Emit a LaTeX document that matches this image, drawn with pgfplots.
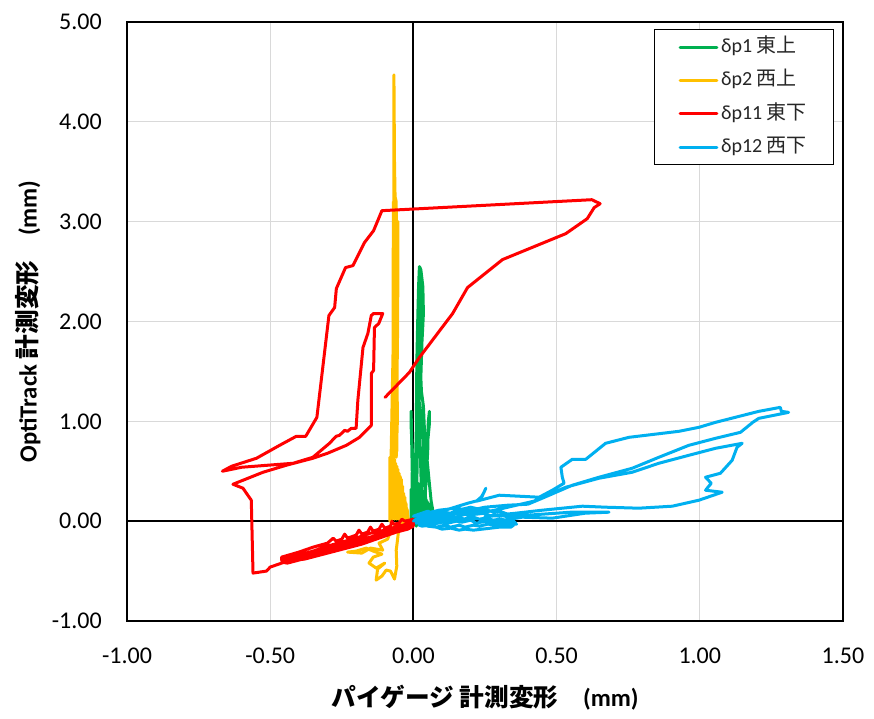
\documentclass[border=0pt]{standalone}
\usepackage{fontspec}
\setmainfont{Carlito}
\newfontfamily\cjk{Noto Sans CJK JP}
\usepackage{pgfplots}
\pgfplotsset{compat=1.18}
\definecolor{gridgray}{RGB}{217,217,217}
\definecolor{cgreen}{RGB}{0,176,80}
\definecolor{cyellow}{RGB}{255,192,0}
\definecolor{cred}{RGB}{255,0,0}
\definecolor{cblue}{RGB}{0,176,240}
\begin{document}
\begin{tikzpicture}
\fill[white] (-95.25pt,-72.75pt) rectangle (560.25pt,465.75pt);
\useasboundingbox (-95.25pt,-72.75pt) rectangle (560.25pt,465.75pt);
\begin{axis}[
  at={(0,0)}, anchor=south west,
  scale only axis, width=537pt, height=449.25pt,
  xmin=-1, xmax=1.5, ymin=-1, ymax=5,
  xtick={-1,-0.5,0,0.5,1,1.5},
  ytick={-1,0,1,2,3,4,5},
  /pgf/number format/assume math mode=true,
  /pgf/number format/fixed, /pgf/number format/fixed zerofill, /pgf/number format/precision=2,
  tick label style={font=\fontsize{18}{22}\selectfont},
  xticklabel style={anchor=north, inner sep=0pt, yshift=-20pt},
  yticklabel style={anchor=east, inner sep=0pt, xshift=-18.75pt},
  major tick length=0pt,
  grid=major,
  major grid style={draw=gridgray, line width=1pt},
  extra x ticks={0}, extra y ticks={0},
  extra x tick labels={}, extra y tick labels={},
  extra tick style={grid=major, major grid style={draw=black, line width=1.6pt}},
  axis line style={draw=black, line width=1.1pt},
  xlabel={\bfseries{\cjk パイゲージ 計測変形　}(mm)},
  ylabel={\bfseries OptiTrack {\cjk 計測変形　}(mm)},
  label style={font=\fontsize{18.5}{22}\selectfont},
  xlabel style={at={(axis description cs:0.5,-0.1285)}, anchor=center, inner sep=0pt},
  ylabel style={at={(axis description cs:-0.1383,0.5)}, anchor=center, inner sep=0pt},
  legend style={at={(1,1)}, anchor=north east, xshift=-6.75pt, yshift=-5.25pt,
    draw=black, line width=0.75pt, inner xsep=18pt, inner ysep=4.3pt,
    row sep=7pt, font=\fontsize{15}{18}\selectfont,
    nodes={text height=11pt, text depth=3pt, inner sep=2pt, anchor=west, text=black!85}},
  legend cell align=left,
  legend image code/.code={\draw[#1, line width=2.25pt] (0pt,0pt) -- (27.5pt,0pt);},
  every axis plot/.append style={line width=2.25pt, line join=round, line cap=round},
]
% delta p1 (green)
\addplot[cgreen, mark=none] coordinates {
(0.00,0.00) (0.005,0.30) (0.010,0.90) (0.012,1.60) (0.015,2.00) (0.018,2.35)
(0.021,2.55) (0.026,2.52) (0.033,2.35) (0.035,2.08) (0.030,1.80) (0.026,1.44)
(0.028,1.30) (0.035,1.15) (0.038,0.95) (0.045,0.70) (0.055,0.40) (0.062,0.20)
(0.067,0.12) (0.050,0.05) (0.040,0.30) (0.042,0.60) (0.050,0.80) (0.056,0.98)
(0.056,1.10) (0.052,1.00) (0.050,0.70) (0.046,0.50) (0.040,0.20) (0.030,0.10)
(0.025,0.60) (0.022,1.00) (0.018,1.20) (0.012,0.80) (0.010,0.40) (0.005,0.10)
(0.000,0.50) (-0.008,0.95) (-0.008,1.10) (-0.004,0.50) (-0.005,0.05) (0.010,-0.05)
(0.020,2.00) (0.024,2.40) (0.028,2.00) (0.024,1.50) (0.016,1.40) (0.014,1.80)
(0.020,1.20) (0.030,1.00) (0.036,0.80) (0.034,0.40)
(-0.008,0.00) (-0.008,0.32) (-0.004,0.00) (-0.004,0.34) (0.000,0.00) (0.000,0.35)
(0.004,0.00) (0.004,0.36) (0.008,0.00) (0.008,0.38) (0.012,0.00) (0.012,0.40)
(0.016,0.00) (0.016,0.38) (0.020,0.00) (0.020,0.36) (0.024,0.00) (0.024,0.34)
(0.028,0.00) (0.028,0.33) (0.032,0.00) (0.032,0.30) (0.036,0.00) (0.036,0.28)
(0.040,0.00) (0.040,0.25) (0.044,0.00) (0.044,0.22) (0.048,0.00) (0.048,0.20)
(0.052,0.00) (0.052,0.18) (0.056,0.00) (0.056,0.16) (0.060,0.02) (0.060,0.12)
(0.064,0.03) (0.064,0.10) (0.030,0.00) (0.000,0.00)
};
\addlegendentry{δp1 {\cjk 東上}}
% delta p2 (yellow)
\addplot[cyellow, mark=none] coordinates {
(-0.020,0.00) (-0.050,0.02) (-0.070,0.10) (-0.070,1.50) (-0.068,3.50) (-0.068,4.47)
(-0.066,3.60) (-0.064,3.25) (-0.060,3.20) (-0.058,2.00) (-0.056,1.00) (-0.060,0.64)
(-0.064,2.50) (-0.067,3.30) (-0.070,2.00) (-0.072,0.65) (-0.070,3.20) (-0.066,0.70)
(-0.063,3.24) (-0.060,1.80) (-0.055,1.84) (-0.054,3.00) (-0.058,0.70) (-0.062,3.10)
(-0.082,0.00) (-0.082,0.64) (-0.078,0.02) (-0.078,0.65) (-0.074,0.02) (-0.074,0.66)
(-0.070,0.03) (-0.070,0.66) (-0.066,0.02) (-0.066,0.62) (-0.062,0.03) (-0.062,0.58)
(-0.058,0.02) (-0.058,0.55) (-0.054,0.03) (-0.054,0.52) (-0.050,0.02) (-0.050,0.48)
(-0.046,0.03) (-0.046,0.45) (-0.042,0.02) (-0.042,0.42) (-0.038,0.03) (-0.038,0.35)
(-0.034,0.02) (-0.034,0.28) (-0.030,0.02) (-0.030,0.24) (-0.026,0.02) (-0.026,0.18)
(-0.022,0.02) (-0.022,0.12) (-0.018,0.02)
(-0.050,-0.05) (-0.056,-0.20) (-0.060,-0.29) (-0.058,-0.45) (-0.066,-0.58) (-0.080,-0.50)
(-0.095,-0.49) (-0.110,-0.55) (-0.130,-0.59) (-0.125,-0.48) (-0.100,-0.42) (-0.130,-0.47)
(-0.155,-0.42) (-0.140,-0.36) (-0.110,-0.33) (-0.140,-0.30) (-0.165,-0.27) (-0.200,-0.30)
(-0.230,-0.31) (-0.180,-0.32) (-0.150,-0.27) (-0.107,-0.29) (-0.120,-0.22) (-0.090,-0.18)
(-0.080,-0.10) (-0.065,-0.05) (-0.054,-0.06)
};
\addlegendentry{δp2 {\cjk 西上}}
% delta p11 (red)
\addplot[cred, mark=none] coordinates {
(0.00,0.02) (-0.03,0.00) (-0.04,0.02) (-0.05,-0.02) (-0.07,-0.03) (-0.075,0.00)
(-0.08,-0.05) (-0.10,-0.07) (-0.11,-0.03) (-0.12,-0.08) (-0.14,-0.10) (-0.15,-0.06)
(-0.16,-0.11) (-0.18,-0.13) (-0.19,-0.09) (-0.20,-0.14) (-0.23,-0.17) (-0.24,-0.13)
(-0.25,-0.18) (-0.27,-0.20) (-0.28,-0.17) (-0.30,-0.22) (-0.35,-0.26) (-0.40,-0.31)
(-0.46,-0.36)
(-0.46,-0.39) (-0.40,-0.34) (-0.35,-0.30) (-0.30,-0.25) (-0.25,-0.21) (-0.20,-0.17)
(-0.15,-0.12) (-0.10,-0.09) (-0.05,-0.05) (0.00,-0.01)
(0.00,-0.04) (-0.05,-0.08) (-0.10,-0.11) (-0.15,-0.16) (-0.20,-0.19) (-0.25,-0.24)
(-0.30,-0.28) (-0.35,-0.32) (-0.40,-0.37) (-0.46,-0.41)
(-0.44,-0.42) (-0.40,-0.39) (-0.35,-0.35) (-0.30,-0.30) (-0.25,-0.27) (-0.20,-0.22)
(-0.15,-0.18) (-0.10,-0.14) (-0.05,-0.10) (0.00,-0.05)
(-0.02,-0.08) (-0.06,-0.11) (-0.10,-0.15) (-0.14,-0.19) (-0.18,-0.23) (-0.22,-0.26)
(-0.26,-0.29) (-0.30,-0.32) (-0.34,-0.35) (-0.38,-0.38)
(-0.44,-0.40) (-0.50,-0.46) (-0.513,-0.50) (-0.56,-0.52) (-0.566,0.21) (-0.583,0.28)
(-0.595,0.33) (-0.63,0.37) (-0.525,0.49) (-0.444,0.56) (-0.351,0.63) (-0.30,0.68)
(-0.234,0.76) (-0.188,0.84) (-0.147,0.96) (-0.147,1.48) (-0.139,1.51) (-0.136,1.94)
(-0.121,1.98) (-0.107,2.08) (-0.139,2.08) (-0.147,2.06) (-0.159,1.88) (-0.176,1.74)
(-0.194,1.21) (-0.200,0.93) (-0.217,0.93) (-0.23,0.90) (-0.24,0.91) (-0.258,0.86)
(-0.27,0.85) (-0.293,0.78) (-0.351,0.64) (-0.420,0.58) (-0.600,0.54) (-0.667,0.50)
(-0.635,0.55) (-0.548,0.63) (-0.467,0.76) (-0.409,0.85) (-0.376,0.85) (-0.337,1.04)
(-0.295,2.06) (-0.275,2.14) (-0.269,2.33) (-0.237,2.54) (-0.211,2.56) (-0.171,2.79)
(-0.139,2.91) (-0.110,3.11) (0.623,3.22) (0.652,3.18) (0.631,3.14) (0.607,3.03)
(0.532,2.88) (0.311,2.62) (0.189,2.34) (0.137,2.08) (0.021,1.64) (-0.014,1.49)
(-0.099,1.24)
};
\addlegendentry{δp11 {\cjk 東下}}
% delta p12 (blue)
\addplot[cblue, mark=none] coordinates {
(0.000,0.00) (0.01,0.02) (0.05,0.05) (0.08,0.07) (0.10,0.09) (0.13,0.08) (0.15,0.11)
(0.18,0.10) (0.20,0.12) (0.23,0.10) (0.25,0.12) (0.28,0.09) (0.30,0.10) (0.34,0.06)
(0.34,0.03) (0.32,0.05) (0.30,0.06) (0.27,0.05) (0.25,0.08) (0.22,0.07) (0.20,0.09)
(0.17,0.06) (0.15,0.08) (0.12,0.05) (0.10,0.06) (0.07,0.03) (0.05,0.04) (0.01,0.00)
(0.01,-0.02) (0.04,0.01) (0.07,0.00) (0.10,0.03) (0.13,0.01) (0.15,0.04) (0.18,0.02)
(0.20,0.05) (0.23,0.02) (0.25,0.03) (0.28,0.01) (0.30,0.02) (0.35,0.00)
(0.36,-0.03) (0.32,-0.02) (0.30,-0.01) (0.27,-0.02) (0.25,0.00) (0.22,-0.02)
(0.20,0.01) (0.17,-0.01) (0.15,0.00) (0.12,-0.02) (0.10,-0.01) (0.07,-0.03)
(0.05,-0.02) (0.02,-0.04)
(0.03,-0.05) (0.06,-0.04) (0.08,-0.06) (0.11,-0.04) (0.13,-0.06) (0.16,-0.04)
(0.18,-0.06) (0.21,-0.04) (0.23,-0.05) (0.26,-0.03) (0.29,-0.04) (0.35,-0.04)
(0.34,-0.06) (0.30,-0.06) (0.27,-0.07) (0.24,-0.08) (0.21,-0.09) (0.18,-0.08)
(0.16,-0.09) (0.13,-0.07) (0.10,-0.08) (0.08,-0.06) (0.05,-0.05) (0.03,-0.03)
(0.06,0.09) (0.09,0.11) (0.12,0.12) (0.14,0.13) (0.17,0.12) (0.20,0.14) (0.23,0.12)
(0.26,0.11) (0.22,0.10) (0.12,0.02) (0.05,0.10)
(0.00,0.05) (0.10,0.10) (0.19,0.18) (0.23,0.21) (0.245,0.28) (0.253,0.33)
(0.24,0.25) (0.22,0.20) (0.30,0.26) (0.439,0.24) (0.485,0.31) (0.526,0.38)
(0.520,0.44) (0.515,0.54) (0.555,0.62) (0.602,0.62) (0.671,0.78) (0.753,0.84)
(0.927,0.90) (0.997,0.94) (1.055,0.99) (1.206,1.10) (1.281,1.14) (1.285,1.10)
(1.310,1.09) (1.206,1.03) (1.185,0.99) (1.142,0.89) (1.055,0.83) (0.962,0.76)
(0.857,0.64) (0.764,0.53) (0.648,0.44) (0.555,0.36) (0.450,0.23) (0.400,0.17)
(0.330,0.16) (0.250,0.14) (0.150,0.08) (0.200,0.06) (0.300,0.12) (0.420,0.20)
(0.532,0.34) (0.648,0.43) (0.764,0.49) (0.857,0.58) (0.962,0.66) (1.055,0.73)
(1.148,0.78) (1.130,0.74) (1.113,0.61) (1.072,0.48) (1.020,0.44) (1.040,0.38)
(1.020,0.31) (1.078,0.29) (0.997,0.21) (0.904,0.15) (0.787,0.13) (0.671,0.14)
(0.590,0.15) (0.450,0.11) (0.358,0.08) (0.250,0.05) (0.400,0.06) (0.550,0.09)
(0.683,0.09) (0.600,0.08) (0.485,0.03) (0.380,0.04) (0.300,0.00) (0.200,0.03)
(0.100,0.00) (0.030,0.02)
};
\addlegendentry{δp12 {\cjk 西下}}
\end{axis}
\end{tikzpicture}
\end{document}
